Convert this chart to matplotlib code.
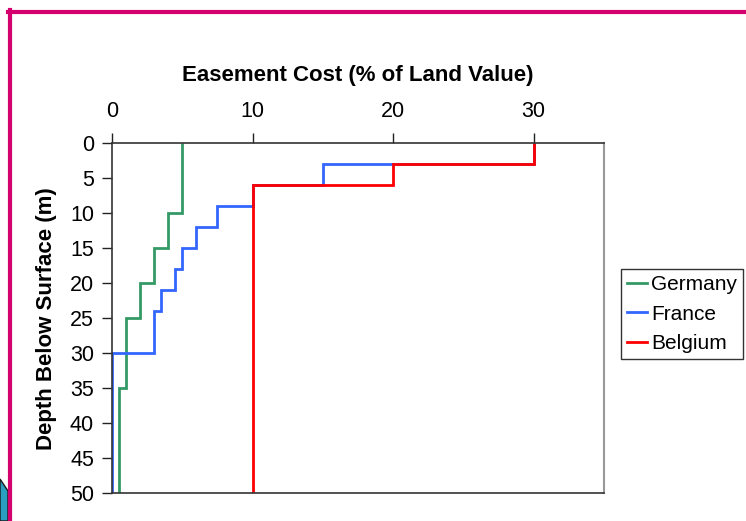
import matplotlib.pyplot as plt
from matplotlib.lines import Line2D
from matplotlib.patches import Polygon

plt.rcParams["font.family"] = ["Liberation Sans", "DejaVu Sans"]

# depth breakpoints (m) and easement cost (% of land value) per depth band
germany_depth = [0, 10, 15, 20, 25, 35, 50]
germany_cost = [5, 4, 3, 2, 1, 0.5]

france_depth = [0, 3, 6, 9, 12, 15, 18, 21, 24, 30, 50]
france_cost = [30, 15, 10, 7.5, 6, 5, 4.5, 3.5, 3, 0]

belgium_depth = [0, 3, 6, 50]
belgium_cost = [30, 20, 10]

x_ticks = [0, 10, 20, 30]
y_ticks = [0, 5, 10, 15, 20, 25, 30, 35, 40, 45, 50]

series = [
    ("Germany", germany_cost, germany_depth, "#339966"),
    ("France", france_cost, france_depth, "#3366FF"),
    ("Belgium", belgium_cost, belgium_depth, "#FF0000"),
]

W, H = 746, 521
fig = plt.figure(figsize=(W / 100, H / 100), dpi=100)

# slide frame decoration
fig.add_artist(Line2D([10 / W, 10 / W], [0, 1 - 10 / H], color="#D4006E", lw=3, transform=fig.transFigure))
fig.add_artist(Line2D([8 / W, 1], [1 - 12 / H, 1 - 12 / H], color="#D4006E", lw=3, transform=fig.transFigure))
fig.add_artist(Polygon([[0, 0], [8 / W, 0], [8 / W, 30 / H], [0, 42 / H]],
                       closed=True, facecolor="#2A9FBF", edgecolor="#1a1a1a", lw=1,
                       transform=fig.transFigure))

ax = fig.add_axes([112 / W, (H - 493.3) / H, 492 / W, 350 / H])

handles = []
for name, cost, depth, color in series:
    ax.stairs(cost, depth, orientation="horizontal", baseline=None, color=color, lw=2.0)
    handles.append(Line2D([], [], color=color, lw=2.0, label=name))

ax.set_xlim(0, 35)
ax.set_ylim(50, 0)
ax.set_xticks(x_ticks)
ax.set_yticks(y_ticks)
ax.xaxis.tick_top()
ax.xaxis.set_label_position("top")
ax.tick_params(axis="both", direction="out", length=7, width=1, labelsize=15.5, color="#222222")
ax.tick_params(axis="x", pad=8)
ax.tick_params(axis="y", pad=6)

ax.set_xlabel("Easement Cost (% of Land Value)", fontsize=16, fontweight="bold", labelpad=15)
ax.set_ylabel("Depth Below Surface (m)", fontsize=16, fontweight="bold", labelpad=9)

for side in ["left", "bottom", "top"]:
    ax.spines[side].set_color("#333333")
    ax.spines[side].set_linewidth(1.2)
ax.spines["right"].set_color("#999999")
ax.spines["right"].set_linewidth(1.5)

leg = fig.legend(handles=handles, loc="upper left", bbox_to_anchor=(621 / W, 1 - 269 / H),
                 fontsize=15, frameon=True, fancybox=False, edgecolor="black",
                 handlelength=0.95, handletextpad=0.2, borderpad=0.3, labelspacing=0.5,
                 borderaxespad=0)
leg.get_frame().set_linewidth(1.0)

fig.savefig("out.png", dpi=100)
plt.close(fig)
